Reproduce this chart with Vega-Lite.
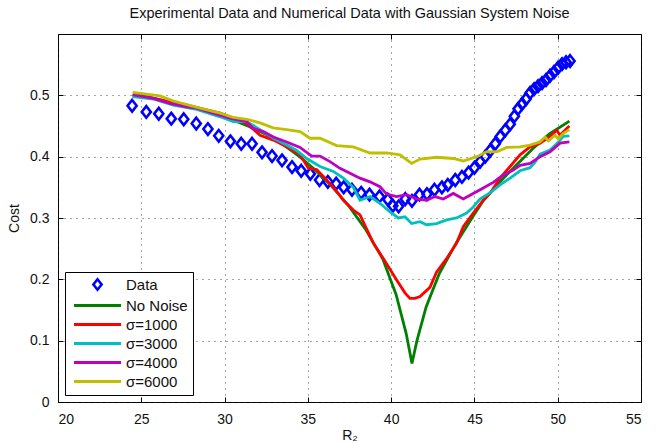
{
  "$schema": "https://vega.github.io/schema/vega-lite/v6.json",
  "autosize": "none",
  "width": 583,
  "height": 368,
  "padding": {"left": 58, "top": 34, "right": 21, "bottom": 40},
  "background": "white",
  "title": {"text": "Experimental Data and Numerical Data with Gaussian System Noise", "font": "Liberation Sans", "fontSize": 14.5, "fontWeight": "normal", "color": "#111", "offset": 12},
  "datasets": {
    "pts": [
      {"series": "Data", "x": 24.45, "y": 0.483}, {"series": "Data", "x": 25.3, "y": 0.473}, {"series": "Data", "x": 26.05, "y": 0.47},
      {"series": "Data", "x": 26.8, "y": 0.462}, {"series": "Data", "x": 27.55, "y": 0.461}, {"series": "Data", "x": 28.3, "y": 0.454},
      {"series": "Data", "x": 29.0, "y": 0.445}, {"series": "Data", "x": 29.65, "y": 0.434}, {"series": "Data", "x": 30.35, "y": 0.425},
      {"series": "Data", "x": 31.0, "y": 0.421}, {"series": "Data", "x": 31.65, "y": 0.421}, {"series": "Data", "x": 32.25, "y": 0.407},
      {"series": "Data", "x": 32.85, "y": 0.401}, {"series": "Data", "x": 33.45, "y": 0.394}, {"series": "Data", "x": 34.05, "y": 0.383},
      {"series": "Data", "x": 34.6, "y": 0.377}, {"series": "Data", "x": 35.15, "y": 0.372}, {"series": "Data", "x": 35.7, "y": 0.362},
      {"series": "Data", "x": 36.2, "y": 0.359}, {"series": "Data", "x": 36.7, "y": 0.356}, {"series": "Data", "x": 37.15, "y": 0.35},
      {"series": "Data", "x": 37.65, "y": 0.346}, {"series": "Data", "x": 38.2, "y": 0.341}, {"series": "Data", "x": 38.7, "y": 0.338},
      {"series": "Data", "x": 39.3, "y": 0.335}, {"series": "Data", "x": 39.8, "y": 0.33}, {"series": "Data", "x": 40.1, "y": 0.32},
      {"series": "Data", "x": 40.45, "y": 0.319}, {"series": "Data", "x": 40.85, "y": 0.331}, {"series": "Data", "x": 41.25, "y": 0.328},
      {"series": "Data", "x": 41.7, "y": 0.338}, {"series": "Data", "x": 42.15, "y": 0.339}, {"series": "Data", "x": 42.6, "y": 0.346},
      {"series": "Data", "x": 43.05, "y": 0.35}, {"series": "Data", "x": 43.4, "y": 0.354}, {"series": "Data", "x": 43.85, "y": 0.362},
      {"series": "Data", "x": 44.25, "y": 0.367}, {"series": "Data", "x": 44.65, "y": 0.374}, {"series": "Data", "x": 45.0, "y": 0.382},
      {"series": "Data", "x": 45.35, "y": 0.392}, {"series": "Data", "x": 45.65, "y": 0.4}, {"series": "Data", "x": 45.95, "y": 0.41},
      {"series": "Data", "x": 46.25, "y": 0.421}, {"series": "Data", "x": 46.55, "y": 0.433}, {"series": "Data", "x": 46.85, "y": 0.443},
      {"series": "Data", "x": 47.15, "y": 0.453}, {"series": "Data", "x": 47.4, "y": 0.466}, {"series": "Data", "x": 47.62, "y": 0.478},
      {"series": "Data", "x": 47.86, "y": 0.486}, {"series": "Data", "x": 48.1, "y": 0.494}, {"series": "Data", "x": 48.34, "y": 0.504},
      {"series": "Data", "x": 48.58, "y": 0.51}, {"series": "Data", "x": 48.82, "y": 0.515}, {"series": "Data", "x": 49.06, "y": 0.52},
      {"series": "Data", "x": 49.3, "y": 0.525}, {"series": "Data", "x": 49.54, "y": 0.532}, {"series": "Data", "x": 49.78, "y": 0.538},
      {"series": "Data", "x": 50.02, "y": 0.545}, {"series": "Data", "x": 50.26, "y": 0.551}, {"series": "Data", "x": 50.5, "y": 0.554},
      {"series": "Data", "x": 50.74, "y": 0.556}
    ],
    "lines": [
      {"series": "No Noise", "x": 24.5, "y": 0.502}, {"series": "No Noise", "x": 25.5, "y": 0.497}, {"series": "No Noise", "x": 26.5, "y": 0.49},
      {"series": "No Noise", "x": 27.5, "y": 0.484}, {"series": "No Noise", "x": 28.5, "y": 0.477}, {"series": "No Noise", "x": 29.5, "y": 0.47},
      {"series": "No Noise", "x": 30.5, "y": 0.46}, {"series": "No Noise", "x": 31.5, "y": 0.449}, {"series": "No Noise", "x": 32.5, "y": 0.436},
      {"series": "No Noise", "x": 33.5, "y": 0.42}, {"series": "No Noise", "x": 34.5, "y": 0.4}, {"series": "No Noise", "x": 35.5, "y": 0.377},
      {"series": "No Noise", "x": 36.5, "y": 0.35}, {"series": "No Noise", "x": 37.5, "y": 0.318}, {"series": "No Noise", "x": 38.5, "y": 0.28},
      {"series": "No Noise", "x": 39.5, "y": 0.233}, {"series": "No Noise", "x": 40.3, "y": 0.175}, {"series": "No Noise", "x": 40.9, "y": 0.112},
      {"series": "No Noise", "x": 41.25, "y": 0.063}, {"series": "No Noise", "x": 41.55, "y": 0.1}, {"series": "No Noise", "x": 42.1, "y": 0.155},
      {"series": "No Noise", "x": 42.9, "y": 0.21}, {"series": "No Noise", "x": 43.9, "y": 0.259}, {"series": "No Noise", "x": 44.9, "y": 0.302},
      {"series": "No Noise", "x": 45.5, "y": 0.327}, {"series": "No Noise", "x": 46.5, "y": 0.358}, {"series": "No Noise", "x": 47.5, "y": 0.386},
      {"series": "No Noise", "x": 48.5, "y": 0.413}, {"series": "No Noise", "x": 49.5, "y": 0.437}, {"series": "No Noise", "x": 50.7, "y": 0.458},

      {"series": "σ=1000", "x": 24.48, "y": 0.499}, {"series": "σ=1000", "x": 25.72, "y": 0.495}, {"series": "σ=1000", "x": 27.73, "y": 0.484},
      {"series": "σ=1000", "x": 29.73, "y": 0.471}, {"series": "σ=1000", "x": 31.33, "y": 0.454}, {"series": "σ=1000", "x": 32.13, "y": 0.435},
      {"series": "σ=1000", "x": 32.93, "y": 0.427}, {"series": "σ=1000", "x": 33.73, "y": 0.416}, {"series": "σ=1000", "x": 34.53, "y": 0.403},
      {"series": "σ=1000", "x": 35.03, "y": 0.381}, {"series": "σ=1000", "x": 35.53, "y": 0.379}, {"series": "σ=1000", "x": 36.13, "y": 0.362},
      {"series": "σ=1000", "x": 36.83, "y": 0.34}, {"series": "σ=1000", "x": 37.13, "y": 0.329}, {"series": "σ=1000", "x": 37.73, "y": 0.313},
      {"series": "σ=1000", "x": 38.13, "y": 0.305}, {"series": "σ=1000", "x": 38.93, "y": 0.259}, {"series": "σ=1000", "x": 39.53, "y": 0.234},
      {"series": "σ=1000", "x": 40.33, "y": 0.199}, {"series": "σ=1000", "x": 40.83, "y": 0.178}, {"series": "σ=1000", "x": 41.13, "y": 0.169},
      {"series": "σ=1000", "x": 41.43, "y": 0.169}, {"series": "σ=1000", "x": 41.73, "y": 0.172}, {"series": "σ=1000", "x": 42.33, "y": 0.187},
      {"series": "σ=1000", "x": 42.73, "y": 0.212}, {"series": "σ=1000", "x": 43.33, "y": 0.234}, {"series": "σ=1000", "x": 43.93, "y": 0.259},
      {"series": "σ=1000", "x": 44.33, "y": 0.286}, {"series": "σ=1000", "x": 44.93, "y": 0.308}, {"series": "σ=1000", "x": 45.53, "y": 0.329},
      {"series": "σ=1000", "x": 45.93, "y": 0.34}, {"series": "σ=1000", "x": 46.54, "y": 0.365}, {"series": "σ=1000", "x": 47.14, "y": 0.384},
      {"series": "σ=1000", "x": 47.74, "y": 0.403}, {"series": "σ=1000", "x": 48.34, "y": 0.416}, {"series": "σ=1000", "x": 48.94, "y": 0.422},
      {"series": "σ=1000", "x": 49.54, "y": 0.433}, {"series": "σ=1000", "x": 49.94, "y": 0.443}, {"series": "σ=1000", "x": 50.14, "y": 0.435},
      {"series": "σ=1000", "x": 50.54, "y": 0.446}, {"series": "σ=1000", "x": 50.7, "y": 0.45},

      {"series": "σ=3000", "x": 24.48, "y": 0.498}, {"series": "σ=3000", "x": 25.72, "y": 0.494}, {"series": "σ=3000", "x": 26.92, "y": 0.484},
      {"series": "σ=3000", "x": 28.33, "y": 0.477}, {"series": "σ=3000", "x": 29.73, "y": 0.465}, {"series": "σ=3000", "x": 30.52, "y": 0.457},
      {"series": "σ=3000", "x": 31.33, "y": 0.457}, {"series": "σ=3000", "x": 32.13, "y": 0.444}, {"series": "σ=3000", "x": 32.93, "y": 0.43},
      {"series": "σ=3000", "x": 33.73, "y": 0.419}, {"series": "σ=3000", "x": 34.33, "y": 0.41}, {"series": "σ=3000", "x": 34.93, "y": 0.397},
      {"series": "σ=3000", "x": 35.73, "y": 0.384}, {"series": "σ=3000", "x": 36.53, "y": 0.376}, {"series": "σ=3000", "x": 37.13, "y": 0.365},
      {"series": "σ=3000", "x": 37.73, "y": 0.35}, {"series": "σ=3000", "x": 38.13, "y": 0.329}, {"series": "σ=3000", "x": 38.73, "y": 0.335},
      {"series": "σ=3000", "x": 39.33, "y": 0.324}, {"series": "σ=3000", "x": 39.93, "y": 0.31}, {"series": "σ=3000", "x": 40.43, "y": 0.3},
      {"series": "σ=3000", "x": 40.83, "y": 0.302}, {"series": "σ=3000", "x": 41.23, "y": 0.291}, {"series": "σ=3000", "x": 41.73, "y": 0.294},
      {"series": "σ=3000", "x": 42.13, "y": 0.289}, {"series": "σ=3000", "x": 42.73, "y": 0.291}, {"series": "σ=3000", "x": 43.33, "y": 0.297},
      {"series": "σ=3000", "x": 43.93, "y": 0.3}, {"series": "σ=3000", "x": 44.53, "y": 0.308}, {"series": "σ=3000", "x": 44.93, "y": 0.318},
      {"series": "σ=3000", "x": 45.33, "y": 0.331}, {"series": "σ=3000", "x": 45.93, "y": 0.341}, {"series": "σ=3000", "x": 46.54, "y": 0.354},
      {"series": "σ=3000", "x": 47.14, "y": 0.365}, {"series": "σ=3000", "x": 47.74, "y": 0.377}, {"series": "σ=3000", "x": 48.34, "y": 0.382},
      {"series": "σ=3000", "x": 48.64, "y": 0.391}, {"series": "σ=3000", "x": 48.94, "y": 0.404}, {"series": "σ=3000", "x": 49.54, "y": 0.411},
      {"series": "σ=3000", "x": 50.04, "y": 0.424}, {"series": "σ=3000", "x": 50.34, "y": 0.433}, {"series": "σ=3000", "x": 50.7, "y": 0.434},

      {"series": "σ=4000", "x": 24.48, "y": 0.501}, {"series": "σ=4000", "x": 25.72, "y": 0.495}, {"series": "σ=4000", "x": 26.72, "y": 0.487},
      {"series": "σ=4000", "x": 27.73, "y": 0.481}, {"series": "σ=4000", "x": 28.33, "y": 0.479}, {"series": "σ=4000", "x": 29.32, "y": 0.471},
      {"series": "σ=4000", "x": 30.33, "y": 0.463}, {"series": "σ=4000", "x": 31.33, "y": 0.457}, {"series": "σ=4000", "x": 31.72, "y": 0.446},
      {"series": "σ=4000", "x": 32.33, "y": 0.441}, {"series": "σ=4000", "x": 32.93, "y": 0.432}, {"series": "σ=4000", "x": 33.73, "y": 0.424},
      {"series": "σ=4000", "x": 34.53, "y": 0.415}, {"series": "σ=4000", "x": 35.23, "y": 0.401}, {"series": "σ=4000", "x": 35.73, "y": 0.401},
      {"series": "σ=4000", "x": 36.33, "y": 0.392}, {"series": "σ=4000", "x": 36.93, "y": 0.381}, {"series": "σ=4000", "x": 37.53, "y": 0.373},
      {"series": "σ=4000", "x": 38.13, "y": 0.365}, {"series": "σ=4000", "x": 38.73, "y": 0.359}, {"series": "σ=4000", "x": 39.33, "y": 0.351},
      {"series": "σ=4000", "x": 39.73, "y": 0.339}, {"series": "σ=4000", "x": 40.33, "y": 0.335}, {"series": "σ=4000", "x": 40.93, "y": 0.338},
      {"series": "σ=4000", "x": 41.53, "y": 0.331}, {"series": "σ=4000", "x": 42.13, "y": 0.329}, {"series": "σ=4000", "x": 42.63, "y": 0.335},
      {"series": "σ=4000", "x": 43.13, "y": 0.331}, {"series": "σ=4000", "x": 43.73, "y": 0.34}, {"series": "σ=4000", "x": 44.33, "y": 0.331},
      {"series": "σ=4000", "x": 44.93, "y": 0.34}, {"series": "σ=4000", "x": 45.53, "y": 0.349}, {"series": "σ=4000", "x": 46.13, "y": 0.358},
      {"series": "σ=4000", "x": 46.73, "y": 0.37}, {"series": "σ=4000", "x": 47.33, "y": 0.378}, {"series": "σ=4000", "x": 47.74, "y": 0.386},
      {"series": "σ=4000", "x": 48.34, "y": 0.389}, {"series": "σ=4000", "x": 48.94, "y": 0.4}, {"series": "σ=4000", "x": 49.54, "y": 0.408},
      {"series": "σ=4000", "x": 50.14, "y": 0.422}, {"series": "σ=4000", "x": 50.7, "y": 0.424},

      {"series": "σ=6000", "x": 24.48, "y": 0.505}, {"series": "σ=6000", "x": 26.12, "y": 0.499}, {"series": "σ=6000", "x": 26.9, "y": 0.491},
      {"series": "σ=6000", "x": 28.52, "y": 0.479}, {"series": "σ=6000", "x": 29.73, "y": 0.471}, {"series": "σ=6000", "x": 30.51, "y": 0.464},
      {"series": "σ=6000", "x": 31.33, "y": 0.461}, {"series": "σ=6000", "x": 32.13, "y": 0.455}, {"series": "σ=6000", "x": 32.91, "y": 0.447},
      {"series": "σ=6000", "x": 33.73, "y": 0.444}, {"series": "σ=6000", "x": 34.53, "y": 0.441}, {"series": "σ=6000", "x": 35.13, "y": 0.43},
      {"series": "σ=6000", "x": 35.73, "y": 0.43}, {"series": "σ=6000", "x": 36.73, "y": 0.418}, {"series": "σ=6000", "x": 37.73, "y": 0.416},
      {"series": "σ=6000", "x": 38.73, "y": 0.406}, {"series": "σ=6000", "x": 39.73, "y": 0.406}, {"series": "σ=6000", "x": 40.53, "y": 0.403},
      {"series": "σ=6000", "x": 41.23, "y": 0.389}, {"series": "σ=6000", "x": 41.73, "y": 0.396}, {"series": "σ=6000", "x": 42.73, "y": 0.399},
      {"series": "σ=6000", "x": 43.73, "y": 0.397}, {"series": "σ=6000", "x": 44.33, "y": 0.393}, {"series": "σ=6000", "x": 45.14, "y": 0.4},
      {"series": "σ=6000", "x": 45.74, "y": 0.408}, {"series": "σ=6000", "x": 46.34, "y": 0.408}, {"series": "σ=6000", "x": 46.94, "y": 0.415},
      {"series": "σ=6000", "x": 47.74, "y": 0.416}, {"series": "σ=6000", "x": 48.34, "y": 0.419}, {"series": "σ=6000", "x": 48.94, "y": 0.424},
      {"series": "σ=6000", "x": 49.24, "y": 0.432}, {"series": "σ=6000", "x": 49.44, "y": 0.426}, {"series": "σ=6000", "x": 49.84, "y": 0.435},
      {"series": "σ=6000", "x": 50.04, "y": 0.429}, {"series": "σ=6000", "x": 50.34, "y": 0.438}, {"series": "σ=6000", "x": 50.7, "y": 0.444}
    ]
  },
  "encoding": {
    "color": {"field": "series", "type": "nominal",
      "scale": {"domain": ["Data", "No Noise", "σ=1000", "σ=3000", "σ=4000", "σ=6000"],
        "range": ["#0000ff", "#008000", "#ff0000", "#00bfbf", "#bf00bf", "#bfbf00"]},
      "legend": {"title": null, "symbolSize": 100, "symbolOffset": 20, "labelOffset": 21, "rowPadding": 3, "padding": 5,
        "encode": {"symbols": {"update": {
          "shape": {"signal": "datum.value === 'Data' ? 'M0,-1L0.78,0L0,1L-0.78,0Z' : 'stroke'"},
          "size": {"signal": "datum.value === 'Data' ? 110 : 2209"},
          "strokeWidth": {"signal": "datum.value === 'Data' ? 2.6 : 3"},
          "fill": {"value": "transparent"},
          "stroke": {"scale": "color", "field": "value"}
        }}}}}
  },
  "layer": [
    {"data": {"name": "pts"},
     "mark": {"type": "point", "shape": "M0,-1L0.78,0L0,1L-0.78,0Z", "filled": false, "size": 135, "strokeWidth": 2.6, "opacity": 1},
     "encoding": {
       "x": {"field": "x", "type": "quantitative", "scale": {"domain": [20, 55], "nice": false, "zero": false},
         "axis": {"title": "R₂", "values": [20, 25, 30, 35, 40, 45, 50, 55], "format": "d", "labelPadding": 15, "tickSize": -5}},
       "y": {"field": "y", "type": "quantitative", "scale": {"domain": [0, 0.6], "nice": false},
         "axis": {"title": "Cost", "values": [0, 0.1, 0.2, 0.3, 0.4, 0.5], "format": ".1~f", "labelPadding": 14, "tickSize": -5}}
     }},
    {"data": {"name": "lines"},
     "mark": {"type": "line", "strokeWidth": 2.8},
     "encoding": {
       "x": {"field": "x", "type": "quantitative",
         "axis": {"orient": "top", "title": null, "labels": false, "grid": false, "values": [20, 25, 30, 35, 40, 45, 50, 55], "tickSize": -5}},
       "y": {"field": "y", "type": "quantitative",
         "axis": {"orient": "right", "title": null, "labels": false, "grid": false, "values": [0, 0.1, 0.2, 0.3, 0.4, 0.5, 0.6], "tickSize": -5}},
       "order": {"field": "x", "type": "quantitative"}
     }}
  ],
  "resolve": {"axis": {"x": "independent", "y": "independent"}},
  "config": {
    "font": "Liberation Sans",
    "view": {"stroke": "black", "strokeWidth": 1},
    "axis": {
      "labelFont": "Liberation Sans", "labelFontSize": 14, "labelColor": "#111",
      "titleFont": "Liberation Sans", "titleFontSize": 14, "titleFontWeight": "normal", "titleColor": "#111",
      "grid": true, "gridColor": "#222", "gridDash": [1, 5], "gridWidth": 1, "gridOpacity": 0.8,
      "domain": false, "ticks": true, "tickColor": "black", "tickWidth": 1
    },
    "axisX": {"titlePadding": 2},
    "axisY": {"titlePadding": 8},
    "legend": {
      "orient": "bottom-left", "offset": 7, "fillColor": "white", "strokeColor": "black",
      "labelFont": "Liberation Sans", "labelFontSize": 15, "labelColor": "#111"
    }
  }
}
